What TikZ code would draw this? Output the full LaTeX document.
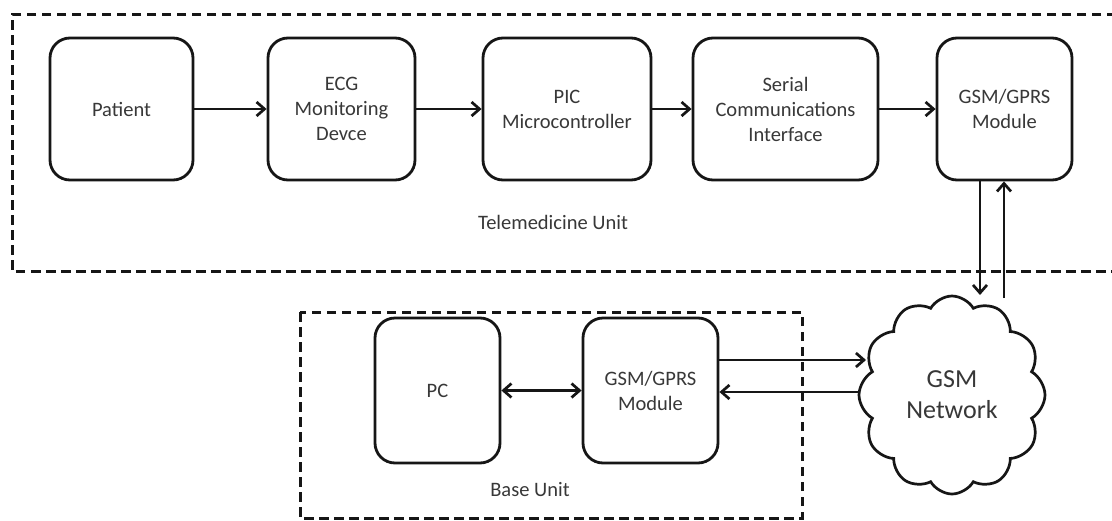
\documentclass[tikz,border=0pt]{standalone}
\usepackage{fontspec}
\setmainfont{Carlito}
\usetikzlibrary{arrows.meta,shapes.symbols,calc}
\definecolor{ink}{HTML}{161616}
\definecolor{txt}{HTML}{383838}
\begin{document}
\begin{tikzpicture}[x=1pt,y=-1pt,
  blockbox/.style={draw=ink, line width=2.8pt, rounded corners=20pt, align=center,
    text=txt, font=\fontsize{20.5}{25}\selectfont, inner sep=2pt},
  frame/.style={draw=ink, line width=3.0pt, dash pattern=on 9.5pt off 5.5pt},
  arr/.style={draw=ink, line width=2.7pt, -{Straight Barb[length=8pt,width=14pt]}},
  darr/.style={draw=ink, line width=2.7pt, {Straight Barb[length=8pt,width=14pt]}-{Straight Barb[length=8pt,width=14pt]}},
  caption/.style={text=txt, font=\fontsize{20.5}{25}\selectfont}]
\useasboundingbox (0,0) rectangle (1112,520);
\fill[white] (0,0) rectangle (1112,520);

% unit frames
\draw[frame] (1116,14) -- (12,14) -- (12,271) -- (1116,271);
\draw[frame] (300,312) rectangle (802,518);

% telemedicine unit blocks
\node[blockbox, minimum width=143pt, minimum height=142pt] (patient) at (121.5,109) {Patient};
\node[blockbox, minimum width=147pt, minimum height=142pt] (ecg) at (341.5,109) {ECG\\Monitoring\\Devce};
\node[blockbox, minimum width=168pt, minimum height=142pt] (pic) at (567,109) {PIC\\Microcontroller};
\node[blockbox, minimum width=185pt, minimum height=142pt] (sci) at (785.5,109) {Serial\\Communications\\Interface};
\node[blockbox, minimum width=135pt, minimum height=142pt] (gsmt) at (1004.5,109) {GSM/GPRS\\Module};
\node[caption] (tlabel) at (553,222) {Telemedicine Unit};

% base unit blocks
\node[blockbox, minimum width=125pt, minimum height=145pt] (pc) at (437.5,390.5) {PC};
\node[blockbox, minimum width=135pt, minimum height=145pt] (gsmb) at (650.5,390.5) {GSM/GPRS\\Module};
\node[caption] (blabel) at (530,490) {Base Unit};

% network cloud
\node[cloud, draw=ink, line width=2.7pt, cloud puffs=12, cloud puff arc=120,
  cloud ignores aspect, minimum width=186pt, minimum height=198pt,
  text=txt, align=center, font=\fontsize{26}{31}\selectfont] (net) at (952,395) {GSM\\Network};

% cloud attachment points
\coordinate (netin) at (980,295);
\coordinate (netout) at (1004,298);
\coordinate (netl1) at (866,360);
\coordinate (netl2) at (858,392);

% connectors
\draw[arr] (patient) -- (ecg);
\draw[arr] (ecg) -- (pic);
\draw[arr] (pic) -- (sci);
\draw[arr] (sci) -- (gsmt);
\draw[arr] (gsmt.south -| netin) -- (netin);
\draw[arr] (netout) -- (gsmt.south -| netout);
\draw[darr] (pc) -- (gsmb);
\draw[arr] (gsmb.east |- netl1) -- (netl1);
\draw[arr] (netl2) -- (gsmb.east |- netl2);
\end{tikzpicture}
\end{document}
